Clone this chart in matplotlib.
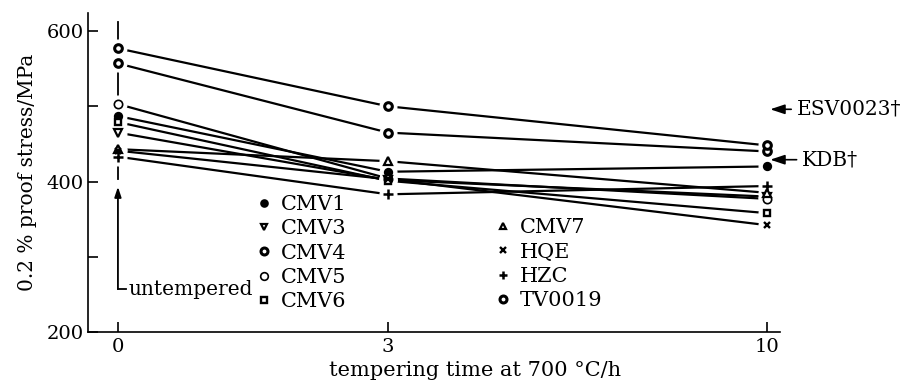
import numpy as np
import matplotlib
matplotlib.use("Agg")
import matplotlib.pyplot as plt
from matplotlib.lines import Line2D
from matplotlib.scale import FuncScale

plt.rcParams['font.family'] = ['DejaVu Serif']

# tempering times (h) and 0.2 % proof stress (MPa)
times = [0, 3, 10]
cmv1 = [487, 413, 420]
cmv3 = [465, 402, 380]
cmv4 = [557, 465, 440]
cmv5 = [503, 404, 377]
cmv6 = [479, 401, 358]
cmv7 = [443, 427, 385]
hqe = [441, 403, 342]
hzc = [433, 383, 394]
tv0019 = [577, 500, 448]

names = ["CMV1", "CMV3", "CMV4", "CMV5", "CMV6", "CMV7", "HQE", "HZC", "TV0019"]
series = [cmv1, cmv3, cmv4, cmv5, cmv6, cmv7, hqe, hzc, tv0019]

# reference levels marked on the right
ref_names = ["ESV0023\u2020", "KDB\u2020"]
ref_values = [496, 429]

# marker style per steel: marker, filled?, size, edge width
styles = {
    "CMV1": ("o", True, 5.5, 1.2),
    "CMV3": ("v", False, 5.5, 1.6),
    "CMV4": ("o", False, 5.5, 2.2),
    "CMV5": ("o", False, 6.0, 1.2),
    "CMV6": ("s", False, 5.0, 1.7),
    "CMV7": ("^", False, 5.5, 1.6),
    "HQE": ("x", False, 5.0, 1.7),
    "HZC": ("+", False, 6.5, 1.8),
    "TV0019": ("o", False, 5.5, 2.2),
}

# the time axis is drawn with uneven spacing between 0, 3 and 10 h
breaks = np.array([0.0, 3.0, 10.0])
spans = np.array([0.0, 270.0, 649.0])
s1 = (spans[1] - spans[0]) / (breaks[1] - breaks[0])
s2 = (spans[2] - spans[1]) / (breaks[2] - breaks[1])


def fwd(t):
    t = np.asarray(t, dtype=float)
    return np.where(t <= breaks[1], t * s1, spans[1] + (t - breaks[1]) * s2)


def inv(p):
    p = np.asarray(p, dtype=float)
    return np.where(p <= spans[1], p / s1, breaks[1] + (p - spans[1]) / s2)


fig = plt.figure(figsize=(9.04, 3.82), dpi=100)
ax = fig.add_axes([0.0973, 0.1309, 0.7655, 0.8351])
ax.set_xscale(FuncScale(ax, (fwd, inv)))

# untempered marker line at t = 0
ax.plot([0, 0], [612, 403], color="black", lw=1.3, zorder=1)

for name, vals in zip(names, series):
    m, filled, ms, mew = styles[name]
    ax.plot(times, vals, color="black", lw=1.6, zorder=2)
    # white halo so the lines stop short of the symbols
    ax.plot(times, vals, ls="none", marker="o", ms=12, mfc="white", mec="white", zorder=3)
    ax.plot(times, vals, ls="none", marker=m, ms=ms, mew=mew, mec="black",
            mfc="black" if filled else "white", zorder=4)

# arrow + label for untempered state
ax.annotate("", xy=(0, 393), xytext=(0, 257),
            arrowprops=dict(arrowstyle="-|>,head_length=0.6,head_width=0.2", color="black", lw=1.3,
                            shrinkA=0, shrinkB=0))
ax.plot([0, 0.09], [257, 257], color="black", lw=1.3)
ax.text(0.12, 257, "untempered", fontsize=14.5, ha="left", va="center")

for lab, val in zip(ref_names, ref_values):
    ax.annotate(lab, xy=(10.06, val), xytext=(10.55 if lab.startswith("E") else 10.65, val),
                fontsize=14.5, ha="left", va="center", annotation_clip=False,
                arrowprops=dict(arrowstyle="-|>,head_length=0.6,head_width=0.2", color="black",
                                lw=1.2, shrinkA=2, shrinkB=0))


def handles(keys):
    out = []
    for k in keys:
        m, filled, ms, mew = styles[k]
        out.append(Line2D([], [], ls="none", marker=m, ms=ms - 0.5, mew=mew, mec="black",
                          mfc="black" if filled else "white"))
    return out


leg_kw = dict(loc="upper left", frameon=False, fontsize=15, handlelength=0.6,
              handletextpad=0.5, labelspacing=0.26, borderpad=0, borderaxespad=0)
leg1 = ax.legend(handles(names[:5]), names[:5], bbox_to_anchor=(0.246, 0.43), **leg_kw)
ax.add_artist(leg1)
ax.legend(handles(names[5:]), names[5:], bbox_to_anchor=(0.591, 0.357), **leg_kw)

ax.set_xlim(-0.333, 10.24)
ax.set_ylim(200, 624)
ax.set_xticks(times)
ax.set_xticklabels([str(t) for t in times])
ax.set_yticks([200, 300, 400, 500, 600])
ax.set_yticklabels(["200", "", "400", "", "600"])
ax.tick_params(direction="in", length=7, width=1.2, labelsize=14, pad=4)
ax.tick_params(axis="y", pad=3)
for s in ["top", "right"]:
    ax.spines[s].set_visible(False)
for s in ["left", "bottom"]:
    ax.spines[s].set_linewidth(1.2)

ax.set_xlabel("tempering time at 700 \u00b0C/h", fontsize=15)
ax.xaxis.set_label_coords(0.559, -0.09)
ax.set_ylabel("0.2 % proof stress/MPa", fontsize=14.5)
ax.yaxis.set_label_coords(-0.074, 0.5)

fig.savefig("out.png", dpi=100)
